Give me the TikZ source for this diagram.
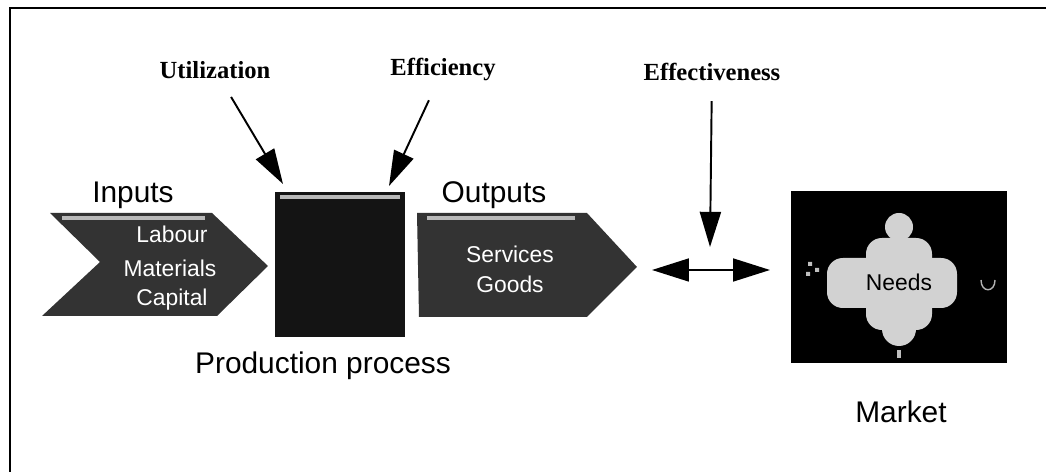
\documentclass[tikz,border=0pt]{standalone}
\usepackage{fontspec}
\setmainfont{Liberation Sans}
\newfontfamily\labelfont{Liberation Serif}
\usetikzlibrary{arrows.meta}

\begin{document}
\begin{tikzpicture}[x=0.02cm,y=-0.02cm,
  measure/.style={font=\labelfont\bfseries\fontsize{14}{16}\selectfont},
  heading/.style={font=\fontsize{17}{20}\selectfont},
  inside/.style={font=\fontsize{13}{15}\selectfont, text=white},
  bigarrow/.style={line width=1.1pt, shorten <=8pt, -{Triangle[length=20pt,width=12pt]}},
  linkarrow/.style={line width=1.2pt, {Triangle[length=21pt,width=13pt]}-{Triangle[length=21pt,width=13pt]}},
  bevel/.style={gray!55, line width=2pt}]
  \useasboundingbox (0,0) rectangle (1046,472);
  % frame, open at the right and at the bottom
  \draw[line width=1.6pt] (10,472) -- (10,8) -- (1046,8);

  % inputs
  \fill[black!80] (50,213) -- (212,213) -- (268,266) -- (217,316) -- (42,316) -- (100,262) -- cycle;
  \draw[bevel] (62,218) -- (205,218);
  \node[heading] (inputs) at (133,195) {Inputs};
  \node[inside] (labour) at (172,234) {Labour};
  \node[inside] (materials) at (170,268) {Materials};
  \node[inside] (capital) at (172,300) {Capital};

  % production process
  \fill[black!92] (275,192) rectangle (405,337);
  \draw[bevel] (280,197) -- (400,197);
  \node[heading] (proclabel) at (323,366) {Production process};

  % outputs
  \fill[black!80] (417,213) -- (587,213) -- (637,267) -- (587,317) -- (419,317) -- cycle;
  \draw[bevel] (427,218) -- (575,218);
  \node[heading] (outputs) at (494,195) {Outputs};
  \node[inside] (services) at (510,254) {Services};
  \node[inside] (goods) at (510,284) {Goods};

  % market
  \fill[black] (791,191) rectangle (1007,363);
  \fill[gray!35] (899,227) circle [radius=14];
  \fill[gray!35, rounded corners=9pt] (866,238) rectangle (932,330);
  \fill[gray!35, rounded corners=9pt] (827,258) rectangle (957,308);
  \fill[gray!35] (899,329) circle [radius=17];
  \draw[gray!60, line width=0.8pt] (981,280) .. controls (981,293) and (995,293) .. (995,280);
  \fill[gray!50] (808,262) rectangle (812,266) (815,268) rectangle (819,272) (806,272) rectangle (810,276);
  \fill[gray!50] (897,350) rectangle (901,358);
  \node[font=\fontsize{13}{15}\selectfont] (needs) at (899,282) {Needs};
  \node[heading] (market) at (901,412) {Market};

  % measures
  \node[measure] (util) at (215,70) {Utilization};
  \node[measure] (effic) at (443,70) {Efficiency};
  \node[measure] (effect) at (712,72) {Effectiveness};
  \coordinate (procleft) at (283,184);
  \coordinate (procright) at (389,186);
  \coordinate (linkmid) at (710,247);
  \coordinate (linkleft) at (652,270);
  \coordinate (linkright) at (770,270);
  \draw[bigarrow] (util) -- (procleft);
  \draw[bigarrow] (effic) -- (procright);
  \draw[bigarrow] (effect) -- (linkmid);
  \draw[linkarrow] (linkleft) -- (linkright);
\end{tikzpicture}
\end{document}
